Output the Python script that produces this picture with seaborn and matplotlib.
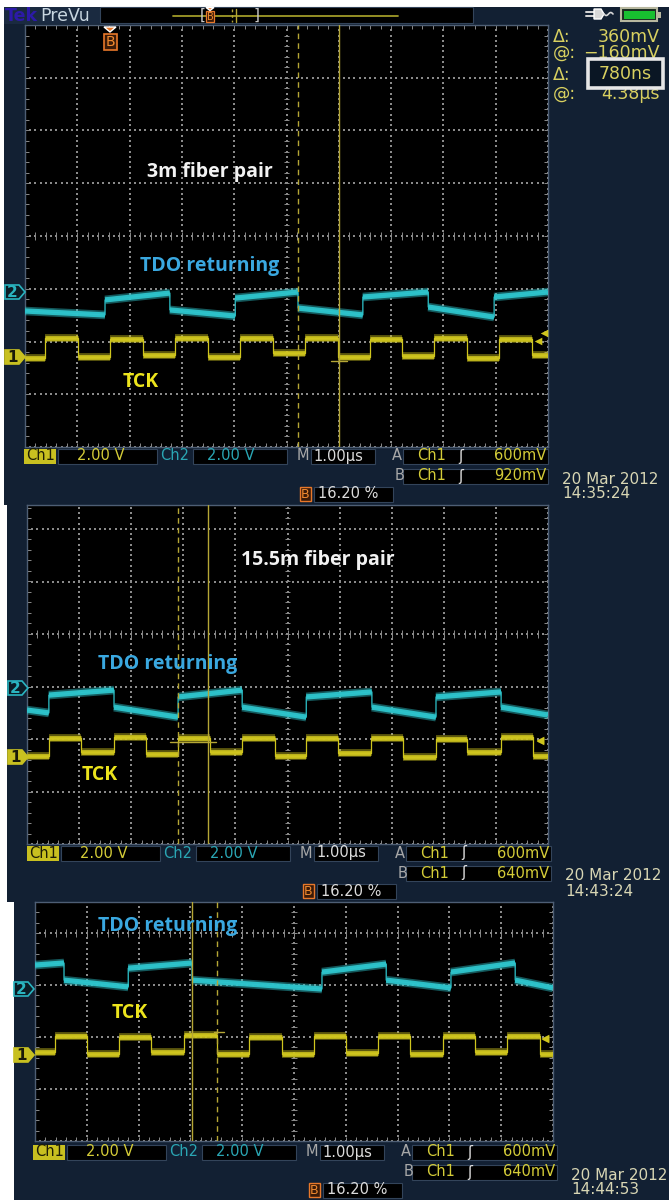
import numpy as np
import pandas as pd
import matplotlib
matplotlib.use("Agg")
import matplotlib.pyplot as plt
from matplotlib.patches import Rectangle, Polygon
from matplotlib import font_manager
import seaborn as sns

# ---------------------------------------------------------------
# Captured waveforms (time in µs, 1.00 µs/div; levels in V relative
# to each channel's ground marker, 2.00 V/div)
# ---------------------------------------------------------------

# 3 m fiber pair  (20 Mar 2012 14:35:24)
tck1_edges = [-4.62, -3.99, -3.37, -2.74, -2.13, -1.50, -0.89, -0.26,
              0.35, 0.98, 1.60, 2.21, 2.82, 3.45, 4.06, 4.69]
tck1_levels = [-0.04, 0.72, 0.00, 0.68, 0.08, 0.72, 0.00, 0.72, 0.15,
               0.72, 0.00, 0.68, 0.04, 0.72, -0.04, 0.68, 0.08]
tdo1_edges = [-3.47, -2.23, -0.98, 0.22, 1.46, 2.71, 3.97]
tdo1_start = [-0.72, -0.30, -0.68, -0.23, -0.61, -0.19, -0.57, -0.19]
tdo1_end = [-0.87, -0.04, -0.91, 0.00, -0.87, 0.00, -0.95, 0.00]
cursors1 = [0.22, 1.00]          # dashed, solid  (Δ 780 ns)
trig1 = [0.60, 0.92]             # A, B trigger levels on Ch1
hmark1 = (-0.16, 0.85, 1.15)     # cursor level marker: V, t from, t to

# 15.5 m fiber pair  (20 Mar 2012 14:43:24)
tck2_edges = [-4.58, -3.96, -3.33, -2.72, -2.10, -1.49, -0.87, -0.24,
              0.36, 0.97, 1.60, 2.22, 2.85, 3.45, 4.10, 4.71]
tck2_levels = [0.04, 0.73, 0.19, 0.76, 0.11, 0.73, 0.19, 0.73, 0.04,
               0.73, 0.15, 0.73, 0.00, 0.69, 0.19, 0.76, 0.04]
tdo2_edges = [-4.58, -3.33, -2.10, -0.87, 0.36, 1.62, 2.85, 4.10]
tdo2_start = [-0.84, -0.27, -0.73, -0.34, -0.73, -0.34, -0.73, -0.34, -0.73]
tdo2_end = [-0.95, -0.08, -1.11, -0.08, -1.11, -0.15, -1.11, -0.15, -1.03]
cursors2 = [-2.10, -1.53]
trig2 = [0.60, 0.64]
hmark2 = (0.57, -2.25, -1.38)

# unlabeled capture  (20 Mar 2012 14:44:53)
tck3_edges = [-4.61, -4.00, -3.38, -2.76, -2.12, -1.49, -0.87, -0.23,
              0.39, 1.00, 1.62, 2.24, 2.88, 3.49, 4.11, 4.75]
tck3_levels = [0.11, 0.73, 0.04, 0.69, 0.11, 0.77, 0.04, 0.69, 0.04,
               0.73, 0.08, 0.73, 0.04, 0.73, 0.11, 0.73, 0.04]
tdo3_edges = [-4.44, -3.20, -1.97, 0.54, 1.78, 3.03, 4.27]
tdo3_start = [0.92, 0.34, 0.80, 0.34, 0.65, 0.34, 0.65, 0.34]
tdo3_end = [1.00, 0.08, 1.00, 0.00, 0.96, 0.04, 1.00, 0.04]
cursors3 = [-1.49, -1.97]
trig3 = [0.60, 0.64]
hmark3 = (0.88, -1.55, -1.35)

titles = ["3m fiber pair", "15.5m fiber pair", ""]
trig_b_text = ["920mV", "640mV", "640mV"]
timestamps = ["14:35:24", "14:43:24", "14:44:53"]
date_text = "20 Mar 2012"
readout_labels = ["Δ:", "@:", "Δ:", "@:"]
readout_values = ["360mV", "\u2212160mV", "780ns", "4.38µs"]

# ---------------------------------------------------------------
sns.set_theme(style="white")
avail = {f.name for f in font_manager.fontManager.ttflist}
label_font = "Open Sans" if "Open Sans" in avail else "DejaVu Sans"
plt.rcParams["font.family"] = ["DejaVu Sans"]

NAVY = "#122033"
TDO_C = "#2ec4cc"
TCK_C = "#cfc51e"
CUR_C = "#b5a635"
GRID_C = "#8a8a8a"
W, H = 669, 1200

fig = plt.figure(figsize=(W / 100, H / 100), dpi=100)
fig.patch.set_facecolor("white")

bg = fig.add_axes([0, 0, 1, 1], zorder=0)
bg.set_xlim(0, W); bg.set_ylim(H, 0); bg.axis("off")
ov = fig.add_axes([0, 0, 1, 1], zorder=10)
ov.set_xlim(0, W); ov.set_ylim(H, 0); ov.axis("off")


def rect(ax, x0, y0, x1, y1, fc, ec="none", lw=0, z=1):
    ax.add_patch(Rectangle((x0, y0), x1 - x0, y1 - y0, fc=fc, ec=ec, lw=lw, zorder=z))


def trace_df(edges, start, end, offset):
    bounds = [-5.0] + list(edges) + [5.0]
    t, v = [], []
    for i in range(len(start)):
        t += [bounds[i], bounds[i + 1]]
        v += [start[i] + offset, end[i] + offset]
    return pd.DataFrame({"t_us": t, "volts": v})


def draw_trace(ax, df, color, core=3.4, halo=5.8):
    sns.lineplot(data=df, x="t_us", y="volts", sort=False, estimator=None,
                 color=color, lw=0.9, ax=ax, zorder=4)
    for i in range(0, len(df), 2):
        xs = df["t_us"].iloc[i:i + 2]
        ys = df["volts"].iloc[i:i + 2]
        ax.plot(xs, ys, color=color, lw=halo, alpha=0.45, solid_capstyle="butt", zorder=4)
        ax.plot(xs, ys, color=color, lw=core, alpha=0.95, solid_capstyle="butt", zorder=5)


def draw_graticule(ax, ylo, yhi):
    gx = np.arange(-5, 5.001, 0.1)
    gy = np.arange(-8, 8.001, 0.2)
    gy = gy[(gy >= ylo - 1e-6) & (gy <= yhi + 1e-6)]
    for yv in range(-8, 9, 2):
        if ylo - 1e-6 <= yv <= yhi + 1e-6:
            ax.scatter(gx, np.full_like(gx, yv), s=0.9, c=GRID_C, marker="s", lw=0, zorder=2)
    for xv in range(-5, 6):
        ax.scatter(np.full_like(gy, xv), gy, s=0.9, c=GRID_C, marker="s", lw=0, zorder=2)
    tx = np.arange(-5, 5.001, 0.2)
    ty = np.arange(-8, 8.001, 0.4)
    ty = ty[(ty >= ylo - 1e-6) & (ty <= yhi + 1e-6)]
    # centre-line and border ticks
    if ylo <= 0 <= yhi:
        ax.vlines(tx, -0.14, 0.14, color=GRID_C, lw=0.7, zorder=2)
    ax.hlines(ty, -0.05, 0.05, color=GRID_C, lw=0.7, zorder=2)
    ax.vlines(tx, ylo, ylo + 0.16, color=GRID_C, lw=0.7, zorder=2)
    if yhi >= 7.9:
        ax.vlines(tx, yhi - 0.16, yhi, color=GRID_C, lw=0.7, zorder=2)
    ax.hlines(ty, -5, -4.93, color=GRID_C, lw=0.7, zorder=2)
    ax.hlines(ty, 4.93, 5, color=GRID_C, lw=0.7, zorder=2)


def ch_badge(ax, x0, yc, num, color, filled):
    pts = [(x0, yc - 7), (x0 + 14, yc - 7), (x0 + 20, yc), (x0 + 14, yc + 7), (x0, yc + 7)]
    ax.add_patch(Polygon(pts, closed=True, fc=color if filled else "#0b1c26",
                         ec=color, lw=1.2, zorder=6))
    ax.text(x0 + 7.5, yc + 0.5, num, color="#1a1a08" if filled else color,
            fontsize=11, fontweight="bold", ha="center", va="center", zorder=7)


def stext(ax, x, y, s, color, ha="left", size=10.5):
    ax.text(x, y, s, color=color, fontsize=size, ha=ha, va="center", zorder=8)


def status_bar(ax, dx, dy, trig_b, tstamp):
    Y1, Y2, Y3 = 456 + dy, 476 + dy, 494 + dy
    box = dict(fc="black", ec="#33445a", lw=0.8, z=6)
    rect(ax, 24 + dx, Y1 - 7.5, 56 + dx, Y1 + 7.5, "#c8c020", z=6)
    stext(ax, 26 + dx, Y1, "Ch1", "#1c1c06")
    rect(ax, 58 + dx, Y1 - 7.5, 157 + dx, Y1 + 7.5, **box)
    stext(ax, 77 + dx, Y1, "2.00 V", "#d4cc38")
    stext(ax, 160 + dx, Y1, "Ch2", "#2aa6b4")
    rect(ax, 193 + dx, Y1 - 7.5, 287 + dx, Y1 + 7.5, **box)
    stext(ax, 207 + dx, Y1, "2.00 V", "#2aa6b4")
    stext(ax, 297 + dx, Y1, "M", "#a8a8a8")
    rect(ax, 311 + dx, Y1 - 7.5, 375 + dx, Y1 + 7.5, **box)
    stext(ax, 313 + dx, Y1, "1.00µs", "#dcdcdc")
    stext(ax, 392 + dx, Y1, "A", "#a8a8a8")
    rect(ax, 403 + dx, Y1 - 7.5, 548 + dx, Y1 + 7.5, **box)
    stext(ax, 417 + dx, Y1, "Ch1", "#d4cc38")
    stext(ax, 458 + dx, Y1, "ʃ", "#e0e0e0")
    stext(ax, 546 + dx, Y1, "600mV", "#d4cc38", ha="right")
    stext(ax, 395 + dx, Y2, "B", "#a8a8a8")
    rect(ax, 403 + dx, Y2 - 7.5, 548 + dx, Y2 + 7.5, **box)
    stext(ax, 417 + dx, Y2, "Ch1", "#d4cc38")
    stext(ax, 458 + dx, Y2, "ʃ", "#e0e0e0")
    stext(ax, 546 + dx, Y2, trig_b, "#d4cc38", ha="right")
    stext(ax, 562 + dx, Y2 + 3, date_text, "#d8d6b4", size=11)
    stext(ax, 562 + dx, Y3, tstamp, "#d8d6b4", size=11)
    rect(ax, 300 + dx, Y3 - 7, 311 + dx, Y3 + 7, "#3a1a08", ec="#e8782a", lw=1.0, z=6)
    stext(ax, 305.5 + dx, Y3 + 0.5, "B", "#f08a30", ha="center", size=9)
    rect(ax, 314 + dx, Y3 - 7.5, 393 + dx, Y3 + 7.5, **box)
    stext(ax, 318 + dx, Y3, "16.20 %", "#dcdcdc")


panels = [
    dict(block=(4, 7, 669, 505), screen=(25, 25, 548, 447), center=236,
         ch2_y=292, ch1_y=357, badge_x=5,
         tck=(tck1_edges, tck1_levels), tdo=(tdo1_edges, tdo1_start, tdo1_end),
         cursors=cursors1, trig=trig1, hmark=hmark1, dx=0, dy=0,
         title_xy=(210, 172), tdo_xy=(210, 266), tck_xy=(141, 382)),
    dict(block=(7, 505, 669, 902), screen=(27, 505, 548, 844), center=634,
         ch2_y=688, ch1_y=757, badge_x=8,
         tck=(tck2_edges, tck2_levels), tdo=(tdo2_edges, tdo2_start, tdo2_end),
         cursors=cursors2, trig=trig2, hmark=hmark2, dx=3, dy=397,
         title_xy=(318, 560), tdo_xy=(168, 664), tck_xy=(100, 775)),
    dict(block=(14, 902, 669, 1200), screen=(35, 902, 553, 1141), center=933,
         ch2_y=989, ch1_y=1055, badge_x=14,
         tck=(tck3_edges, tck3_levels), tdo=(tdo3_edges, tdo3_start, tdo3_end),
         cursors=cursors3, trig=trig3, hmark=hmark3, dx=9, dy=696,
         title_xy=None, tdo_xy=(168, 926), tck_xy=(130, 1013)),
]

for k, p in enumerate(panels):
    bx0, by0, bx1, by1 = p["block"]
    rect(bg, bx0, by0, bx1, by1, NAVY, z=1)

    x0, y0, x1, y1 = p["screen"]
    div_px = (y1 - p["center"]) / 4.0
    ylo, yhi = -8.0, (p["center"] - y0) / div_px * 2.0
    ax = fig.add_axes([x0 / W, 1 - y1 / H, (x1 - x0) / W, (y1 - y0) / H], zorder=5)
    ax.set_facecolor("black")
    ax.set_xlim(-5, 5); ax.set_ylim(ylo, yhi)
    ax.set_xticks([]); ax.set_yticks([])
    for s in ax.spines.values():
        s.set_color("#4e5e74"); s.set_linewidth(1.0)
    draw_graticule(ax, ylo, yhi)

    off1 = (p["center"] - p["ch1_y"]) / div_px * 2.0
    off2 = (p["center"] - p["ch2_y"]) / div_px * 2.0
    edges, levels = p["tck"]
    tck_df = trace_df(edges, levels, levels, off1)
    e2, s2, n2 = p["tdo"]
    tdo_df = trace_df(e2, s2, n2, off2)
    draw_trace(ax, tdo_df, TDO_C, core=3.8, halo=6.2)
    draw_trace(ax, tck_df, TCK_C, core=3.4, halo=5.6)
    ax.set_xlabel(""); ax.set_ylabel("")

    # cursors: first dashed, second solid
    ax.axvline(p["cursors"][0], color=CUR_C, lw=1.0, ls=(0, (4, 3)), zorder=6)
    ax.axvline(p["cursors"][1], color=CUR_C, lw=1.0, zorder=6)
    hv, ht0, ht1 = p["hmark"]
    ax.plot([ht0, ht1], [off1 + hv, off1 + hv], color=CUR_C, lw=1.0, zorder=6)
    # trigger level arrows
    tx = [4.80, 4.93] if k == 0 else [4.85, 4.85]
    ax.scatter(tx, [off1 + t for t in p["trig"]], marker="<", s=30, c=TCK_C, lw=0, zorder=7)

    ch_badge(ov, p["badge_x"], p["ch2_y"], "2", "#2ab4c0", False)
    ch_badge(ov, p["badge_x"], p["ch1_y"], "1", "#c8c020", True)

    if p["title_xy"]:
        ov.text(*p["title_xy"], titles[k], color="#f2f2f2", fontsize=14,
                fontfamily=label_font, fontweight="bold", ha="center", va="center")
    ov.text(*p["tdo_xy"], "TDO returning", color="#3aa8e0", fontsize=14,
            fontfamily=label_font, fontweight="bold", ha="center", va="center")
    ov.text(*p["tck_xy"], "TCK", color="#ece41c", fontsize=14,
            fontfamily=label_font, fontweight="bold", ha="center", va="center")

    status_bar(ov, p["dx"], p["dy"], trig_b_text[k], timestamps[k])

# ---- top header of the first capture ----
rect(ov, 4, 7, 100, 24, "#1a2a40", z=2)
ov.text(5, 16, "Tek", color="#2c1aa8", fontsize=12.5, fontweight="bold", va="center", zorder=3)
ov.text(40, 16, "PreVu", color="#c8d6e0", fontsize=12.5, va="center", zorder=3)
rect(ov, 100, 7, 473, 23, "black", ec="#33445a", lw=0.8, z=2)
ov.plot([173, 398], [15.5, 15.5], color="#a09a28", lw=1.3, zorder=3)
ov.text(203, 15.5, "[", color="#c8c8c8", fontsize=11, va="center", ha="center", zorder=4)
ov.text(257, 15.5, "]", color="#c8c8c8", fontsize=11, va="center", ha="center", zorder=4)
ov.plot([232, 232], [9, 22], color=CUR_C, lw=1.0, ls=(0, (2, 2)), zorder=4)
ov.plot([236, 236], [9, 22], color=CUR_C, lw=1.0, zorder=4)
rect(ov, 206, 11, 214, 22, "#3a1a08", ec="#e8782a", lw=0.9, z=4)
ov.text(210, 16.8, "B", color="#f08a30", fontsize=7, ha="center", va="center", zorder=5)
ov.add_patch(Polygon([(206, 7.5), (214, 7.5), (210, 10.5)], fc="#e8782a", zorder=5))

# B trigger position marker at top of screen
ov.add_patch(Polygon([(104, 27), (116, 27), (110, 32)], fc="#e8782a", zorder=8))
rect(ov, 104, 34, 117, 50, "#3a1a08", ec="#e8782a", lw=1.2, z=8)
ov.text(110.5, 42.5, "B", color="#f08a30", fontsize=10, ha="center", va="center", zorder=9)

# power plug and battery
ov.plot([586, 594], [12, 12], color="#d8d8d8", lw=1.4, zorder=3)
ov.plot([586, 594], [16, 16], color="#d8d8d8", lw=1.4, zorder=3)
ov.add_patch(Polygon([(594, 9), (601, 9), (604, 14), (601, 19), (594, 19)], fc="#d8d8d8", zorder=3))
wx = np.linspace(604, 613, 20)
ov.plot(wx, 14 + 1.5 * np.sin((wx - 604) / 9 * 2 * np.pi), color="#d8d8d8", lw=1.2, zorder=3)
rect(ov, 621, 8, 657, 21, "#1a2a20", ec="#b8b8a0", lw=1.5, z=3)
rect(ov, 623.5, 10.5, 654.5, 18.5, "#18c030", z=4)
rect(ov, 657, 11.5, 661, 17.5, "#b8b8a0", z=3)

# cursor readouts
ry = [37, 53, 75, 94]
for lab, val, y in zip(readout_labels, readout_values, ry):
    ov.text(553, y, lab, color="#d8d060", fontsize=12.5, va="center", zorder=3)
    if val != "780ns":
        ov.text(660, y, val, color="#d8d060", fontsize=12.5, va="center", ha="right", zorder=3)
rect(ov, 588, 59, 663, 88, "#0a1624", ec="#e6e6e6", lw=2.6, z=4)
ov.text(625.5, 74, readout_values[2], color="#d8d060", fontsize=12.5,
        va="center", ha="center", zorder=5)

fig.savefig("out.png", dpi=100, facecolor="white")
